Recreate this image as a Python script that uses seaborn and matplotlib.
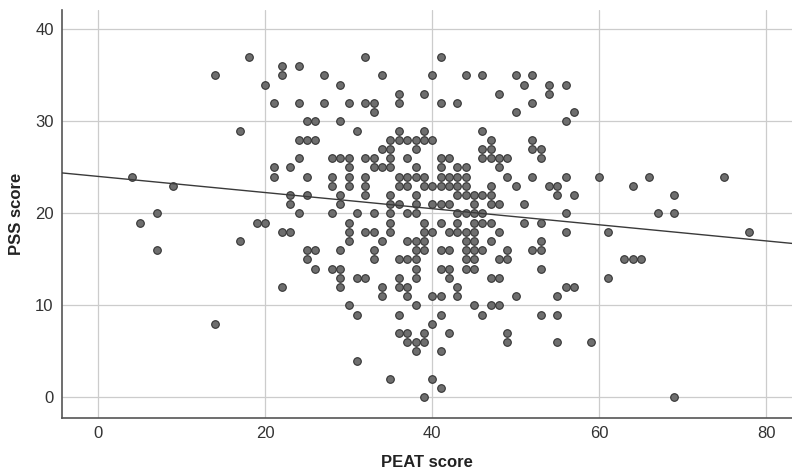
import matplotlib
matplotlib.use('Agg')
import matplotlib.pyplot as plt
import seaborn as sns
import pandas as pd

# PSS score levels and the PEAT scores found at each level
pss_levels = [37, 36, 35, 34, 33, 32, 31, 30, 29, 28, 27, 26, 25, 24, 23, 22, 21,
              20, 19, 18, 17, 16, 15, 14, 13, 12, 11, 10, 9, 8, 7, 6, 5, 4, 2, 1, 0]
peat_at_level = [
    [18, 32, 41],
    [22, 24],
    [14, 22, 27, 34, 40, 44, 46, 50, 52],
    [20, 29, 51, 54, 56],
    [36, 39, 48, 54],
    [21, 24, 27, 30, 32, 33, 36, 41, 43, 52],
    [33, 50, 57],
    [25, 26, 29, 56],
    [17, 31, 36, 39, 46],
    [24, 25, 26, 35, 36, 37, 38, 39, 40, 47, 52],
    [34, 35, 38, 46, 47, 52, 53],
    [24, 28, 29, 30, 32, 33, 35, 37, 41, 42, 46, 47, 48, 49, 53],
    [21, 23, 30, 33, 34, 35, 38, 41, 43, 44, 48],
    [4, 21, 25, 28, 30, 32, 36, 37, 38, 39, 41, 42, 43, 44, 49, 52, 56, 60, 66, 75],
    [9, 28, 30, 32, 36, 37, 39, 40, 41, 42, 43, 44, 47, 50, 54, 55, 64],
    [23, 25, 29, 32, 35, 38, 43, 44, 45, 46, 47, 55, 57, 69],
    [23, 29, 35, 36, 38, 40, 41, 42, 45, 47, 48, 51],
    [7, 24, 28, 31, 33, 35, 37, 38, 43, 44, 45, 46, 56, 67, 69],
    [5, 19, 20, 30, 35, 39, 41, 43, 45, 46, 47, 51, 53],
    [22, 23, 30, 32, 33, 35, 39, 40, 42, 43, 44, 45, 48, 56, 61, 78],
    [17, 30, 34, 37, 38, 39, 44, 45, 47, 53],
    [7, 25, 26, 29, 33, 38, 39, 41, 42, 44, 45, 46, 49, 52, 53],
    [25, 33, 36, 37, 38, 44, 45, 48, 49, 63, 64, 65],
    [26, 28, 29, 38, 41, 42, 44, 45, 53],
    [29, 31, 32, 36, 38, 42, 47, 48, 61],
    [22, 29, 34, 36, 37, 43, 56, 57],
    [34, 37, 40, 41, 43, 50, 55],
    [30, 38, 45, 47, 48],
    [31, 36, 41, 46, 53, 55],
    [14, 40],
    [36, 37, 39, 42, 49],
    [37, 38, 39, 49, 55, 59],
    [38, 41],
    [31],
    [35, 40],
    [41],
    [39, 69],
]

x_ticks = [0, 20, 40, 60, 80]
y_ticks = [0, 10, 20, 30, 40]

rows = []
for level, peats in zip(pss_levels, peat_at_level):
    for p in peats:
        rows.append({'PEAT score': p, 'PSS score': level})
df = pd.DataFrame(rows)

sns.set_style('white')
plt.rcParams['font.family'] = ['Liberation Sans', 'DejaVu Sans']

fig = plt.figure(figsize=(7.92, 4.74), dpi=100)
ax = fig.add_axes([62 / 792, 56 / 474, 730 / 792, 408 / 474])
ax.set_xlim(-4.35, 83.1)
ax.set_ylim(-2.25, 42.1)

sns.regplot(data=df, x='PEAT score', y='PSS score', ci=None, truncate=False, ax=ax,
            scatter_kws=dict(s=30, color='#6e6e6e', edgecolors='#333333',
                             linewidths=0.8, alpha=1, zorder=3),
            line_kws=dict(color='#3a3a3a', lw=1, zorder=4))

ax.set_xlim(-4.35, 83.1)
ax.set_ylim(-2.25, 42.1)
ax.set_xticks(x_ticks)
ax.set_yticks(y_ticks)
ax.tick_params(length=0, labelsize=12, colors='#333333', pad=6)
ax.grid(True, color='#cccccc', lw=0.9)
ax.set_axisbelow(True)
for side in ['top', 'right']:
    ax.spines[side].set_visible(False)
for side in ['left', 'bottom']:
    ax.spines[side].set_color('#555555')
    ax.spines[side].set_linewidth(1.2)

ax.set_xlabel('PEAT score', fontsize=12, fontweight='bold', color='#222222', labelpad=10)
ax.set_ylabel('PSS score', fontsize=12, fontweight='bold', color='#222222', labelpad=8)

fig.savefig('out.png', dpi=100)
